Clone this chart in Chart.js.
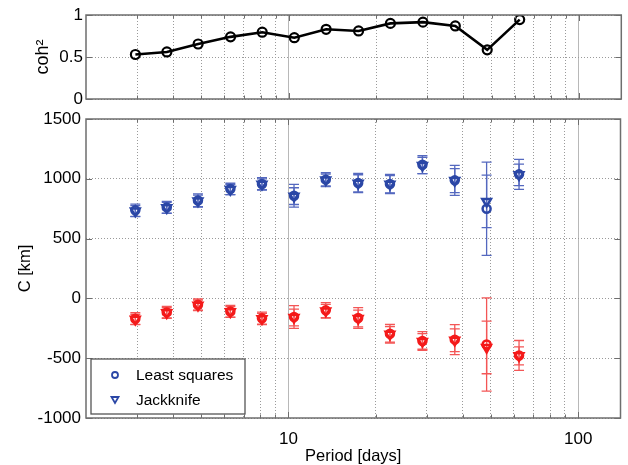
<!DOCTYPE html>
<html>
<head>
<meta charset="utf-8">
<script src="https://cdn.jsdelivr.net/npm/chart.js@4.4.0/dist/chart.umd.min.js"></script>
<style>
    html, body { margin: 0; padding: 0; background: #fff; }
    #wrap { position: relative; width: 628px; height: 465px; }
    .panel { position: absolute; left: 0; top: 0; width: 628px; }
    #botBox { height: 465px; }
    #topBox { height: 120px; }
</style>
</head>
<body>
<div id="wrap">
    <div class="panel" id="botBox"><canvas id="cChart"></canvas></div>
    <div class="panel" id="topBox"><canvas id="cohChart"></canvas></div>
</div>
<script>
// periods of the estimates [days]
const periods = [2.96, 3.8, 4.87, 6.3, 8.1, 10.45, 13.45, 17.4, 22.4, 29, 37.5, 48.3, 62.5];

// squared coherence
const coh = [0.53, 0.56, 0.655, 0.74, 0.795, 0.73, 0.83, 0.81, 0.90, 0.915, 0.87, 0.585, 0.945];

// blue estimates and their errors [km]
const blueLS = [736, 761, 819, 915, 957, 859, 993, 965, 957, 1118, 987, 750, 1037];
const blueJK = [730, 758, 815, 910, 955, 855, 990, 962, 955, 1112, 985, 811, 1033];
const blueLSerr = [52, 50, 55, 48, 52, 95, 59, 80, 80, 75, 125, 390, 125];
const blueJKerr = [45, 45, 48, 42, 45, 70, 50, 72, 72, 68, 100, 219, 90];

// red estimates and their errors [km]
const redLS = [-170, -117, -53, -109, -167, -156, -100, -164, -295, -356, -345, -385, -477];
const redJK = [-175, -120, -57, -112, -170, -160, -105, -168, -300, -360, -350, -410, -480];
const redLSerr = [50, 50, 48, 50, 52, 95, 65, 87, 78, 78, 125, 390, 125];
const redJKerr = [42, 42, 42, 44, 45, 70, 55, 70, 65, 65, 95, 220, 75];

// axis ticks
const xTicks = [3, 4, 5, 6, 7, 8, 9, 10, 20, 30, 40, 50, 60, 70, 80, 90, 100];
const xLabeled = [10, 100];
const cTicks = [-1000, -500, 0, 500, 1000, 1500];
const cohTicks = [0, 0.5, 1];

const BLUE = '#2b47a6', BLUE_ERR = '#5468bf';
const RED = '#f41a1a', RED_ERR = '#f35656';
const FONT = 'Liberation Sans, Arial, Helvetica, sans-serif';

function pts(ys) {
    return periods.map((p, i) => ({ x: p, y: ys[i] }));
}

function xScale(showLabels) {
    return {
        type: 'logarithmic',
        min: 2,
        max: 140,
        afterBuildTicks: s => { s.ticks = xTicks.map(v => ({ value: v })); },
        afterFit: s => { s.height = showLabels ? 47 : 21; },
        grid: {
            drawTicks: false,
            lineWidth: 1,
            color: c => (c.tick && xLabeled.includes(c.tick.value)) ? '#b8b8b8' : '#9a9a9a'
        },
        border: {
            display: false,
            dash: c => (c.tick && xLabeled.includes(c.tick.value)) ? [] : [1, 2]
        },
        ticks: {
            display: showLabels,
            autoSkip: false,
            maxRotation: 0,
            padding: 11,
            color: '#000',
            font: { family: FONT, size: 17 },
            callback: v => xLabeled.includes(v) ? String(v) : ''
        },
        title: {
            display: showLabels,
            text: 'Period [days]',
            color: '#000',
            padding: { top: 0, bottom: -1 },
            font: { family: FONT, size: 16.5 }
        }
    };
}

function yScale(min, max, ticks, label, width, pad, titleSize) {
    return {
        type: 'linear',
        min: min,
        max: max,
        afterBuildTicks: s => { s.ticks = ticks.map(v => ({ value: v })); },
        afterFit: s => { s.width = width; },
        grid: { drawTicks: false, color: '#9a9a9a', lineWidth: 1 },
        border: { display: false, dash: [1, 2] },
        ticks: {
            padding: pad,
            color: '#000',
            font: { family: FONT, size: 17 },
            callback: v => String(v)
        },
        title: {
            display: true,
            text: label,
            color: '#000',
            padding: 0,
            font: { family: FONT, size: titleSize }
        }
    };
}

// grey box round the axes, with short inward ticks
const boxPlugin = {
    id: 'box',
    afterDatasetsDraw(chart) {
        const { ctx, chartArea: a, scales: { x, y } } = chart;
        ctx.save();
        ctx.strokeStyle = '#6e6e6e';
        ctx.lineWidth = 1.5;
        ctx.strokeRect(a.left, a.top, a.right - a.left, a.bottom - a.top);
        ctx.lineWidth = 1;
        ctx.beginPath();
        xTicks.forEach(v => {
            const px = Math.round(x.getPixelForValue(v)) + 0.5;
            const len = xLabeled.includes(v) ? 6 : 3.5;
            ctx.moveTo(px, a.bottom); ctx.lineTo(px, a.bottom - len);
            ctx.moveTo(px, a.top); ctx.lineTo(px, a.top + len);
        });
        y.ticks.forEach(t => {
            const py = Math.round(y.getPixelForValue(t.value)) + 0.5;
            ctx.moveTo(a.left, py); ctx.lineTo(a.left + 6, py);
            ctx.moveTo(a.right, py); ctx.lineTo(a.right - 6, py);
        });
        ctx.stroke();
        ctx.restore();
    }
};

// vertical error bars with caps, behind the markers
const errSeries = [
    { vals: blueLS, errs: blueLSerr, color: BLUE_ERR },
    { vals: blueJK, errs: blueJKerr, color: BLUE_ERR },
    { vals: redLS, errs: redLSerr, color: RED_ERR },
    { vals: redJK, errs: redJKerr, color: RED_ERR }
];

const errorBars = {
    id: 'errorBars',
    beforeDatasetsDraw(chart) {
        const { ctx, scales: { x, y } } = chart;
        ctx.save();
        ctx.lineWidth = 1.3;
        errSeries.forEach(s => {
            ctx.strokeStyle = s.color;
            ctx.beginPath();
            periods.forEach((p, i) => {
                const px = x.getPixelForValue(p);
                const top = y.getPixelForValue(s.vals[i] + s.errs[i]);
                const bot = y.getPixelForValue(s.vals[i] - s.errs[i]);
                ctx.moveTo(px, top); ctx.lineTo(px, bot);
                ctx.moveTo(px - 5, top); ctx.lineTo(px + 5, top);
                ctx.moveTo(px - 5, bot); ctx.lineTo(px + 5, bot);
            });
            ctx.stroke();
        });
        ctx.restore();
    }
};

// legend box in the lower left corner of the axes
const legendBox = {
    id: 'legendBox',
    afterDraw(chart) {
        const { ctx, chartArea: a } = chart;
        const items = chart.data.datasets.slice(0, 2);
        const bx = a.left + 5, by = a.bottom - 59, bw = 154, bh = 55;
        ctx.save();
        ctx.fillStyle = '#fff';
        ctx.fillRect(bx, by, bw, bh);
        ctx.strokeStyle = '#555';
        ctx.lineWidth = 1.3;
        ctx.strokeRect(bx, by, bw, bh);
        items.forEach((ds, i) => {
            const cy = by + 16 + i * 24.5;
            const cx = bx + 24;
            ctx.strokeStyle = BLUE;
            ctx.lineWidth = 1.8;
            ctx.beginPath();
            if (ds.pointStyle === 'circle') {
                ctx.arc(cx, cy, 3, 0, Math.PI * 2);
            } else {
                ctx.moveTo(cx - 3.5, cy - 2.5);
                ctx.lineTo(cx + 3.5, cy - 2.5);
                ctx.lineTo(cx, cy + 3.5);
                ctx.closePath();
            }
            ctx.stroke();
            ctx.fillStyle = '#000';
            ctx.font = '15.5px ' + FONT;
            ctx.textBaseline = 'middle';
            ctx.fillText(ds.label, bx + 45, cy + 1);
        });
        ctx.restore();
    }
};

function markerSet(label, ys, color, style) {
    return {
        label: label,
        data: pts(ys),
        showLine: false,
        pointStyle: style,
        rotation: style === 'triangle' ? 180 : 0,
        pointRadius: style === 'triangle' ? 5 : 4,
        pointBorderWidth: 2.5,
        pointBorderColor: color,
        pointBackgroundColor: 'rgba(255,255,255,0)',
        borderColor: color
    };
}

new Chart(document.getElementById('cChart'), {
    type: 'scatter',
    data: {
        datasets: [
            markerSet('Least squares', blueLS, BLUE, 'circle'),
            markerSet('Jackknife', blueJK, BLUE, 'triangle'),
            markerSet('Least squares red', redLS, RED, 'circle'),
            markerSet('Jackknife red', redJK, RED, 'triangle')
        ]
    },
    options: {
        responsive: true,
        maintainAspectRatio: false,
        animation: false,
        layout: { padding: { left: 16, right: 5, top: 119, bottom: 0 } },
        plugins: { legend: { display: false }, tooltip: { enabled: false } },
        scales: {
            x: xScale(true),
            y: yScale(-1000, 1500, cTicks, 'C [km]', 70, 5, 16.5)
        }
    },
    plugins: [errorBars, boxPlugin, legendBox]
});

new Chart(document.getElementById('cohChart'), {
    type: 'line',
    data: {
        datasets: [{
            label: 'coh2',
            data: pts(coh),
            borderColor: '#000',
            borderWidth: 2.6,
            pointStyle: 'circle',
            pointRadius: 4.5,
            pointBorderWidth: 2.2,
            pointBorderColor: '#000',
            pointBackgroundColor: 'rgba(255,255,255,0)',
            tension: 0
        }]
    },
    options: {
        responsive: true,
        maintainAspectRatio: false,
        animation: false,
        layout: { padding: { left: 32, right: 5, top: 15, bottom: 0 } },
        plugins: { legend: { display: false }, tooltip: { enabled: false } },
        scales: {
            x: xScale(false),
            y: yScale(0, 1, cohTicks, 'coh²', 54, 3, 18)
        }
    },
    plugins: [boxPlugin]
});
</script>
</body>
</html>
